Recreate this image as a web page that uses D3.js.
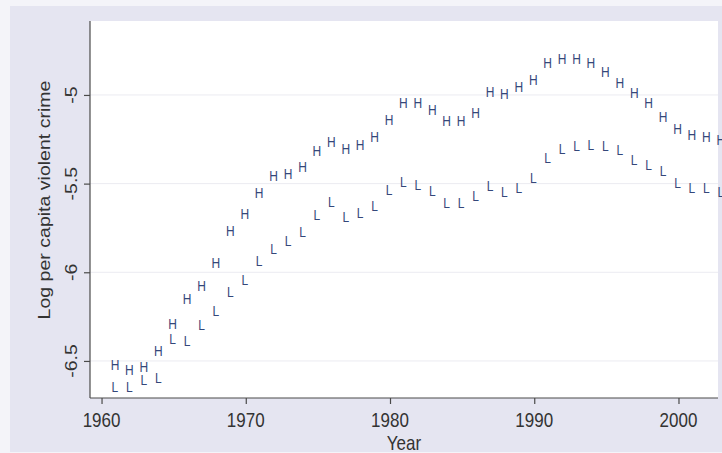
<!DOCTYPE html>
<html lang="en">
<head>
    <meta charset="UTF-8">
    <title>Log per capita violent crime</title>
    <script src="https://d3js.org/d3.v7.min.js"></script>
    <style>
        body { margin: 0; background: #f4f4f9; font-family: "Liberation Sans", Arial, sans-serif; }
        svg { display: block; }
        .tick-label, .axis-title { fill: #333; }
        .mark { fill: #34477a; }
    </style>
</head>
<body>
<svg width="722" height="453"></svg>
<script>
    // data
    const years = d3.range(1961, 2004);
    const highSeries = [
        -6.523, -6.551, -6.532, -6.444, -6.292, -6.147, -6.075, -5.946, -5.767, -5.671,
        -5.551, -5.457, -5.446, -5.404, -5.316, -5.263, -5.301, -5.282, -5.235, -5.139,
        -5.043, -5.043, -5.085, -5.145, -5.145, -5.100, -4.985, -4.996, -4.953, -4.915,
        -4.821, -4.797, -4.797, -4.821, -4.872, -4.931, -4.987, -5.047, -5.126, -5.192,
        -5.226, -5.235, -5.254
    ];
    const lowSeries = [
        -6.645, -6.645, -6.604, -6.594, -6.378, -6.387, -6.297, -6.217, -6.109, -6.040,
        -5.938, -5.865, -5.822, -5.774, -5.677, -5.602, -5.686, -5.667, -5.626, -5.534,
        -5.492, -5.504, -5.541, -5.607, -5.607, -5.570, -5.513, -5.549, -5.523, -5.470,
        -5.354, -5.301, -5.288, -5.282, -5.288, -5.310, -5.363, -5.395, -5.429, -5.494,
        -5.523, -5.523, -5.545
    ];
    const xTicks = [1960, 1970, 1980, 1990, 2000];
    const yTicks = [-5, -5.5, -6, -6.5];

    const svg = d3.select("svg");
    const plot = { left: 90, right: 718, top: 21, bottom: 398 };

    const x = d3.scaleLinear().domain([1959.2, 2002.74]).range([plot.left, plot.right]);
    const y = d3.scaleLinear().domain([-4.583, -6.709]).range([plot.top, plot.bottom]);

    // graph region + plot region
    svg.append("rect").attr("x", 10).attr("y", 6).attr("width", 712).attr("height", 446).attr("fill", "#e5e5f1");
    svg.append("rect").attr("x", plot.left).attr("y", plot.top)
        .attr("width", plot.right - plot.left).attr("height", plot.bottom - plot.top).attr("fill", "#fff");

    // grid lines
    svg.selectAll(".grid").data(yTicks).enter().append("line")
        .attr("x1", plot.left).attr("x2", plot.right)
        .attr("y1", d => y(d)).attr("y2", d => y(d))
        .attr("stroke", "#ebebf1").attr("stroke-width", 1);

    // y axis
    const yAxis = svg.append("g").attr("transform", `translate(${plot.left},0)`)
        .call(d3.axisLeft(y).tickValues(yTicks).tickSize(6).tickFormat(""));
    yAxis.select(".domain").attr("d", `M0,${plot.top}V${plot.bottom}`);
    yAxis.selectAll("path, line").attr("stroke", "#4a4a4a").attr("stroke-width", 1.2);

    svg.selectAll(".ylab").data(yTicks).enter().append("text")
        .attr("class", "tick-label")
        .attr("text-anchor", "middle")
        .attr("font-size", 17)
        .attr("transform", d => `translate(77,${y(d)}) rotate(-90) scale(1.15,1)`)
        .text(d => d3.format("")(d).replace("−", "-"));

    // x axis
    const xAxis = svg.append("g").attr("transform", `translate(0,${plot.bottom})`)
        .call(d3.axisBottom(x).tickValues(xTicks).tickSize(6).tickFormat(""));
    xAxis.select(".domain").attr("d", `M${plot.left},0H${plot.right}`);
    xAxis.selectAll("path, line").attr("stroke", "#4a4a4a").attr("stroke-width", 1.2);

    svg.selectAll(".xlab").data(xTicks).enter().append("text")
        .attr("class", "tick-label")
        .attr("text-anchor", "middle")
        .attr("font-size", 17)
        .attr("transform", d => `translate(${x(d)},427) scale(1,1.2)`)
        .text(d => d);

    // axis titles
    svg.append("text").attr("class", "axis-title")
        .attr("text-anchor", "middle").attr("font-size", 17)
        .attr("transform", `translate(50,200) rotate(-90) scale(1.15,1)`)
        .text("Log per capita violent crime");

    svg.append("text").attr("class", "axis-title")
        .attr("text-anchor", "middle").attr("font-size", 17)
        .attr("transform", `translate(${(plot.left + plot.right) / 2},450) scale(1,1.2)`)
        .text("Year");

    // letter markers
    function drawLetters(values, letter) {
        svg.selectAll(".m" + letter).data(values).enter().append("text")
            .attr("class", "mark")
            .attr("text-anchor", "middle")
            .attr("font-size", 12)
            .attr("dy", "0.36em")
            .attr("transform", (d, i) => `translate(${x(years[i]) - 1},${y(d)}) scale(1,1.2)`)
            .text(letter);
    }
    drawLetters(highSeries, "H");
    drawLetters(lowSeries, "L");
</script>
</body>
</html>
